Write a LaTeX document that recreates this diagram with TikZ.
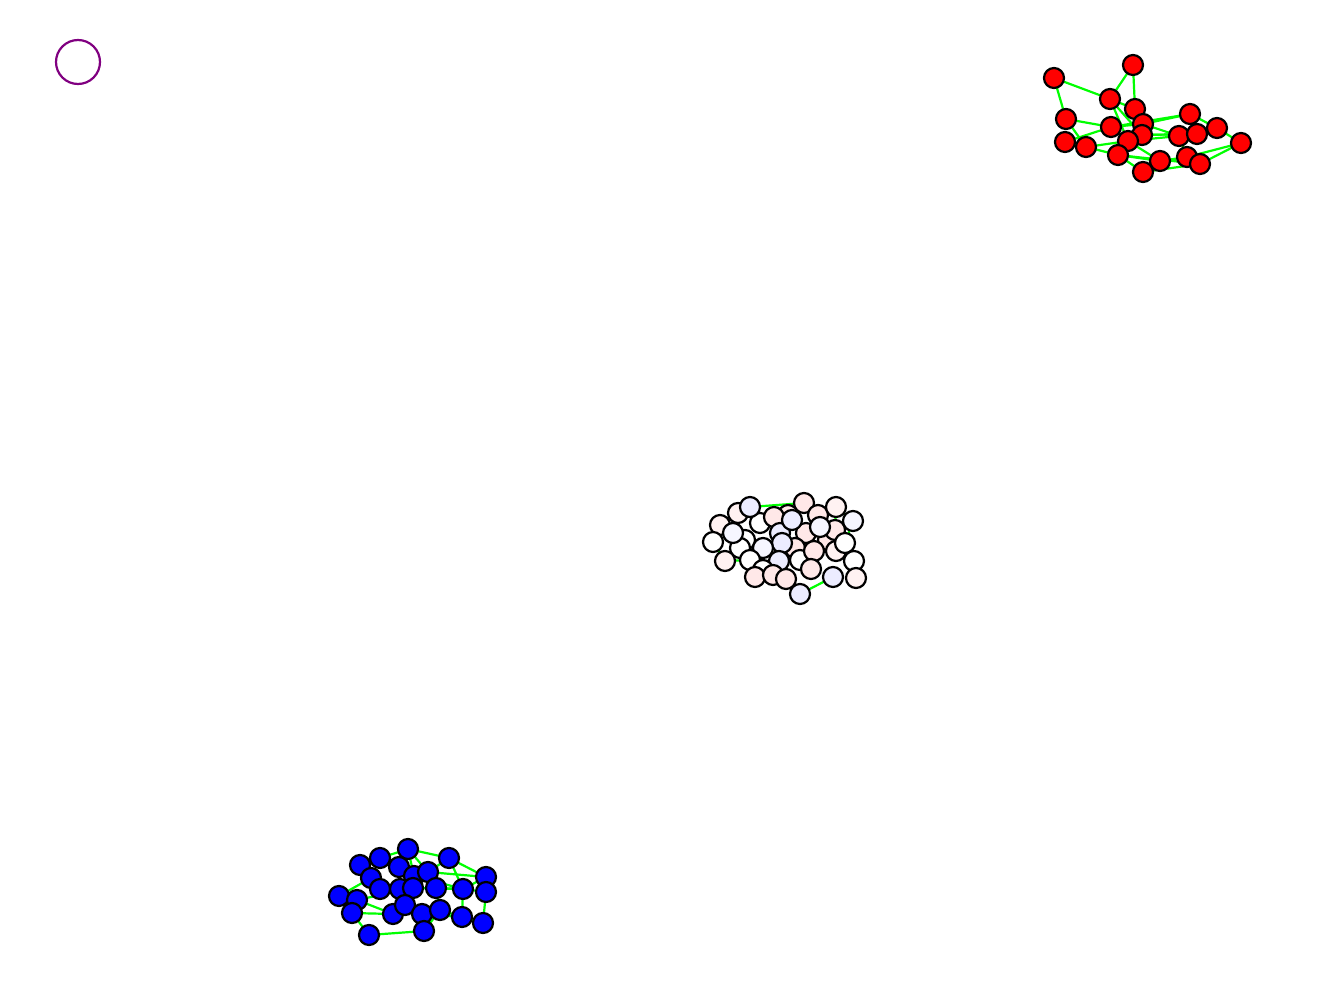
\documentclass[tikz,border=0pt]{standalone}
\begin{document}
\begin{tikzpicture}[x=1pt,y=-1pt,
  vert/.style={circle,draw=black,line width=2.2pt,minimum size=20pt,inner sep=0pt},
  edge/.style={draw={rgb,255:red,0;green,255;blue,0},line width=2.2pt}]
\useasboundingbox (0,0) rectangle (1320,999);
\definecolor{pk}{RGB}{255,232,232}
\definecolor{pl}{RGB}{255,242,242}
\definecolor{lv}{RGB}{236,236,255}
\definecolor{ll}{RGB}{246,246,255}
\definecolor{pr}{RGB}{128,0,128}
\node[circle,draw=pr,line width=2.2pt,minimum size=44pt,inner sep=0pt] (p) at (78,62) {};
% red cluster
\foreach \n/\x/\y in {1/1054/78,2/1133/65,3/1110/99,4/1135/109,5/1066/119,6/1111/127,7/1143/124,8/1142/135,9/1190/114,10/1065/142,11/1086/147,12/1128/141,13/1118/155,14/1179/136,15/1197/134,16/1217/128,17/1241/143,18/1160/161,19/1187/157,20/1200/164,21/1143/172}
  \coordinate (r\n) at (\x,\y);
\foreach \a/\b in {1/3,1/5,2/3,2/4,3/4,3/12,3/8,5/6,5/11,10/6,10/11,11/13,11/12,13/21,21/20,18/19,19/17,20/17,16/17,9/16,9/7,9/6,14/15,14/7,15/8,12/14,18/12,18/13,19/14,4/8,7/12,6/12,13/20,6/7,8/15,21/18}
  \draw[edge] (r\a) -- (r\b);
\foreach \n in {1,...,21} \node[vert,fill=red] (R\n) at (r\n) {};
% blue cluster
\foreach \n/\x/\y in {1/408/849,2/380/858,3/360/865,4/449/858,5/399/867,6/371/878,7/414/876,8/428/872,9/486/877,10/339/896,11/357/900,12/380/889,13/400/889,14/413/888,15/436/888,16/463/889,17/486/892,18/352/913,19/393/914,20/405/905,21/422/914,22/440/910,23/462/917,24/483/923,25/424/931,26/369/935}
  \coordinate (b\n) at (\x,\y);
\foreach \a/\b in {1/2,1/4,1/7,1/8,2/3,2/5,3/6,4/9,4/8,5/7,6/12,6/10,7/14,8/15,9/17,9/16,10/11,11/18,11/19,18/26,26/25,25/22,22/23,23/24,24/17,16/15,15/22,13/20,20/21,21/22,12/13,19/20,14/16,8/9,7/16,18/19,11/14,3/12,17/16,16/23,21/23,4/16,2/7}
  \draw[edge] (b\a) -- (b\b);
\foreach \n in {1,...,26} \node[vert,fill=blue] (B\n) at (b\n) {};
% centre cluster
\foreach \n/\x/\y in {1/720/525,2/713/542,3/733/533,4/738/513,5/750/507,6/760/523,7/774/517,8/792/520,9/788/515,10/804/503,11/818/515,12/836/507,13/853/521,14/820/527,15/806/533,16/782/543,17/763/548,18/745/540,19/780/533,20/845/543,21/836/551,22/814/551,23/725/561,24/750/560,25/773/575,26/755/577,27/786/579,28/811/569,29/833/577,30/854/561,31/856/578,32/800/594,33/779/561,34/763/570,35/800/560,36/828/540,37/795/548,38/740/548,39/835/530}
  \coordinate (c\n) at (\x,\y);
\foreach \a/\b in {5/10,12/13,29/32,32/27,2/23,13/20,20/30,30/31,3/18,11/39,39/21,4/7,23/24,12/39}
  \draw[edge] (c\a) -- (c\b);
\foreach \n/\c in {1/pl,4/pl,9/pk,10/pk,6/white,7/pk,11/pk,12/pl,15/pk,19/lv,36/pk,39/pk,21/pl,37/pk,35/white,18/white,38/white,2/white,3/ll,5/lv,8/lv,14/ll,13/ll,16/lv,17/ll,20/white,22/pk,23/pl,24/white,33/lv,34/white,26/pk,25/pk,27/pk,28/pk,29/lv,30/white,31/pl,32/lv}
  \node[vert,fill=\c] (C\n) at (c\n) {};
\end{tikzpicture}
\end{document}
